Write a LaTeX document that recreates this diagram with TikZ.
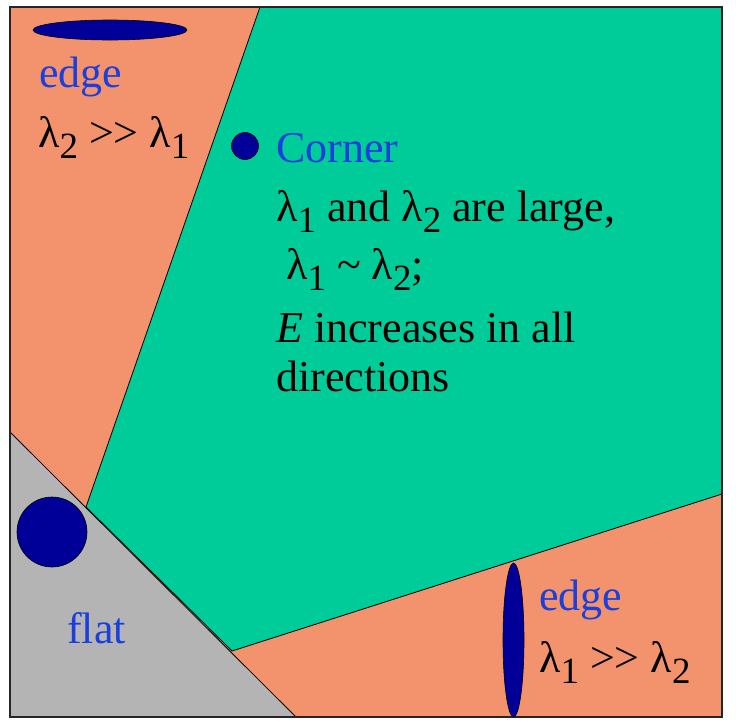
\documentclass[tikz,border=0pt]{standalone}
\usepackage{fontspec}
\setmainfont{Liberation Serif}
\usetikzlibrary{shapes.geometric}
\definecolor{edgebg}{HTML}{F3936E}
\definecolor{cornerbg}{HTML}{00CC99}
\definecolor{flatbg}{HTML}{B4B4B4}
\definecolor{blob}{HTML}{000099}
\definecolor{tag}{HTML}{1A3FDC}
\newcommand\lsub[1]{\raisebox{-0.26em}{\fontsize{37}{37}\selectfont #1}}
\newcommand\lmuch{>\kern0pt>}
\tikzset{
    region/.style={draw=black, line width=0.8pt, line join=round},
    frame/.style={draw=black!85, line width=1.4pt},
    blob/.style={ellipse, fill=blob, draw=black, line width=0.6pt, inner sep=0pt},
    tag/.style={font=\fontsize{44}{52}\selectfont, text=tag, anchor=base west, inner sep=0pt},
    note/.style={font=\fontsize{44}{52}\selectfont, anchor=base west, inner sep=0pt},
}
\begin{document}
\begin{tikzpicture}[x=1pt, y=-1pt]

  \useasboundingbox[fill=white] (0,0) rectangle (736,726);

  % corners of the plot
  \coordinate (tl) at (10,7);
  \coordinate (tr) at (722,7);
  \coordinate (br) at (722,717);
  \coordinate (bl) at (10,717);

  % regions
  \fill[edgebg] (tl) rectangle (br);
  \draw[region, fill=cornerbg] (260,7) -- (tr) -- (722,494) -- (232,651) -- (86,507) -- cycle;
  \draw[region, fill=flatbg] (10,432) -- (296,717) -- (bl) -- cycle;
  \draw[frame] (tl) rectangle (br);

  % shapes
  \node[blob, minimum width=154pt, minimum height=20pt] (topblob) at (110,30) {};
  \node[blob, minimum width=27pt, minimum height=27pt] (cornerblob) at (245,146) {};
  \node[blob, minimum width=70pt, minimum height=70pt] (flatblob) at (52,532) {};
  \node[blob, minimum width=21pt, minimum height=154pt] (sideblob) at (513.5,640) {};

  % top-left edge
  \node[tag] (edgetop) at (39,87) {edge};
  \node[note] (edgetopeq) at (38,147) {λ\lsub{2} \lmuch{} λ\lsub{1}};

  % corner
  \node[tag] (corner) at (276,162) {Corner};
  \node[note] (cornera) at (276,221) {λ\lsub{1} and λ\lsub{2} are large,};
  \node[note] (cornerb) at (286,279) {λ\lsub{1} \textasciitilde{} λ\lsub{2};};
  \node[note] (cornerc) at (276,342) {\textit{E} increases in all};
  \node[note] (cornerd) at (276,391) {directions};

  % flat
  \node[tag] (flat) at (67,643) {flat};

  % bottom-right edge
  \node[tag] (edgeside) at (539,610) {edge};
  \node[note] (edgesideeq) at (539,672) {λ\lsub{1} \lmuch{} λ\lsub{2}};

\end{tikzpicture}
\end{document}
